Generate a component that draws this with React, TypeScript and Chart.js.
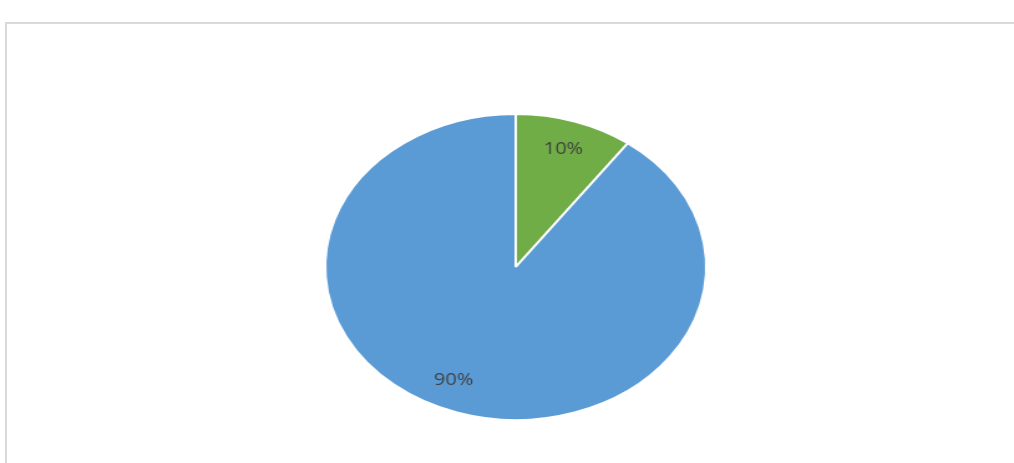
import React, { useEffect, useRef } from "react";
import { Chart, registerables } from "chart.js";

Chart.register(...registerables);

const categories = ["Category 1", "Category 2"];
const values = [10, 90];
const sliceColors = ["#70AD47", "#5B9BD5"];
const valueLabels = ["10%", "90%"];

const STRETCH = 1.245;
const CSS_W = 1014;
const CSS_H = 463;
const INNER_W = Math.round(CSS_W / STRETCH);

const labelPlugin = {
  id: "sliceLabels",
  afterDatasetsDraw(chart: any) {
    const meta = chart.getDatasetMeta(0);
    const ctx = chart.ctx;
    ctx.save();
    ctx.fillStyle = "#404040";
    ctx.font = "16px 'Open Sans', 'Noto Sans', sans-serif";
    ctx.textAlign = "center";
    ctx.textBaseline = "middle";
    meta.data.forEach((arc: any, i: number) => {
      const p = arc.getProps(["x", "y", "startAngle", "endAngle", "outerRadius"], true);
      const mid = (p.startAngle + p.endAngle) / 2 + (i === 1 ? 0.1 : 0);
      const r = p.outerRadius * 0.81;
      ctx.fillText(valueLabels[i], p.x + Math.cos(mid) * r, p.y + Math.sin(mid) * r);
    });
    ctx.restore();
  },
};

export default function App() {
  const ref = useRef<HTMLCanvasElement | null>(null);
  useEffect(() => {
    if (!ref.current) return;
    const chart = new Chart(ref.current, {
      type: "pie",
      data: {
        labels: categories,
        datasets: [
          {
            data: values,
            backgroundColor: sliceColors,
            borderColor: "#ffffff",
            borderWidth: 2,
          },
        ],
      },
      options: {
        animation: false,
        responsive: false,
        maintainAspectRatio: false,
        devicePixelRatio: 1,
        layout: { padding: { top: 113, bottom: 42, left: 260, right: 246 } },
        plugins: { legend: { display: false }, tooltip: { enabled: false } },
      },
      plugins: [labelPlugin],
    });
    return () => chart.destroy();
  }, []);

  return (
    <div style={{ position: "fixed", left: 0, top: 0, width: CSS_W, height: CSS_H, overflow: "hidden", background: "#fff" }}>
      <div style={{ position: "absolute", left: 5, top: 22, width: CSS_W - 5, height: 2, background: "#d9d9d9" }} />
      <div style={{ position: "absolute", left: 5, top: 22, width: 2, height: CSS_H - 22, background: "#d9d9d9" }} />
      <canvas
        ref={ref}
        width={INNER_W}
        height={CSS_H}
        style={{ position: "absolute", left: 0, top: 0, width: CSS_W + "px", height: CSS_H + "px", display: "block" }}
      />
    </div>
  );
}
